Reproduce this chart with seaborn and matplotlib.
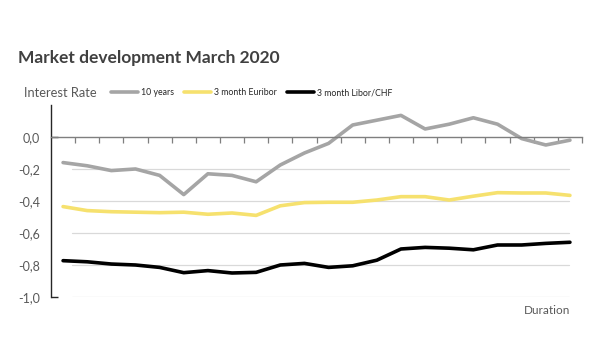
import numpy as np
import pandas as pd
import seaborn as sns
import matplotlib.pyplot as plt

series_names = ["10 years", "3 month Euribor", "3 month Libor/CHF"]
ten_years = [-0.16, -0.18, -0.21, -0.20, -0.24, -0.36, -0.23, -0.24, -0.28, -0.175, -0.10,
             -0.04, 0.075, 0.105, 0.135, 0.05, 0.08, 0.12, 0.08, -0.01, -0.05, -0.02]
euribor = [-0.435, -0.46, -0.467, -0.47, -0.473, -0.47, -0.483, -0.475, -0.49, -0.43, -0.41,
           -0.408, -0.408, -0.394, -0.373, -0.373, -0.394, -0.37, -0.348, -0.35, -0.35, -0.365]
libor_chf = [-0.773, -0.78, -0.794, -0.80, -0.815, -0.848, -0.835, -0.85, -0.846, -0.80, -0.79,
             -0.815, -0.805, -0.77, -0.70, -0.69, -0.695, -0.705, -0.675, -0.675, -0.665, -0.658]
y_ticks = [0.0, -0.2, -0.4, -0.6, -0.8, -1.0]

colors = {"10 years": "#a5a5a5", "3 month Euribor": "#f6e16e", "3 month Libor/CHF": "#000000"}
text_color = "#595959"

days = np.arange(len(ten_years))
df = pd.DataFrame({
    "day": np.tile(days, 3),
    "rate": ten_years + euribor + libor_chf,
    "series": np.repeat(series_names, len(days)),
})

sns.set_style("white")
plt.rcParams["font.family"] = ["Lato", "DejaVu Sans"]

fig = plt.figure(figsize=(6, 3.61), dpi=100)
ax = fig.add_axes([0.085, 0.1773, 0.885, 0.5319])

for y in y_ticks[1:]:
    ax.axhline(y, xmin=0.04, xmax=0.975, color="#d9d9d9", lw=0.9, zorder=0)

sns.lineplot(data=df, x="day", y="rate", hue="series", palette=colors,
             linewidth=2.6, ax=ax, legend=True)
handles, labels = ax.get_legend_handles_labels()
ax.get_legend().remove()

ax.set_xlim(-0.5, len(days) - 0.5)
ax.set_ylim(-1.0, 0.2)
ax.set_xlabel("")
ax.set_ylabel("")

# x axis sits at zero, ticks between categories
ax.spines["bottom"].set_position(("data", 0))
ax.spines["bottom"].set_color("#7f7f7f")
ax.spines["bottom"].set_linewidth(1.0)
ax.spines["left"].set_color("#262626")
ax.spines["left"].set_linewidth(1.0)
ax.spines["top"].set_visible(False)
ax.spines["right"].set_visible(False)
ax.set_xticks(days + 0.5)
ax.set_xticklabels([])
ax.tick_params(axis="x", direction="out", length=4, width=0.9, color="#7f7f7f", bottom=True)

ax.set_yticks(y_ticks)
ax.set_yticklabels([f"{v:.1f}".replace(".", ",") for v in y_ticks],
                   color=text_color, fontsize=9)
ax.tick_params(axis="y", direction="in", length=5, width=1.0, color="#262626", pad=8, left=True)
for tick in ax.yaxis.get_major_ticks()[1:-1]:
    tick.tick1line.set_visible(False)

fig.text(0.03, 0.84, "Market development March 2020", fontsize=12.5,
         fontweight="bold", color="#404040", va="center")
fig.text(0.04, 0.743, "Interest Rate", fontsize=9.3, color=text_color, va="center")
fig.text(0.95, 0.141, "Duration", fontsize=8.5, color=text_color, ha="right", va="center")

fig.legend(handles, labels, loc="center left", bbox_to_anchor=(0.185, 0.743), ncol=3,
           frameon=False, fontsize=6.3, handlelength=3.1, handletextpad=0.35,
           columnspacing=1.1, borderpad=0, borderaxespad=0, labelcolor="#262626")

fig.savefig("out.png", dpi=100, facecolor="white")
